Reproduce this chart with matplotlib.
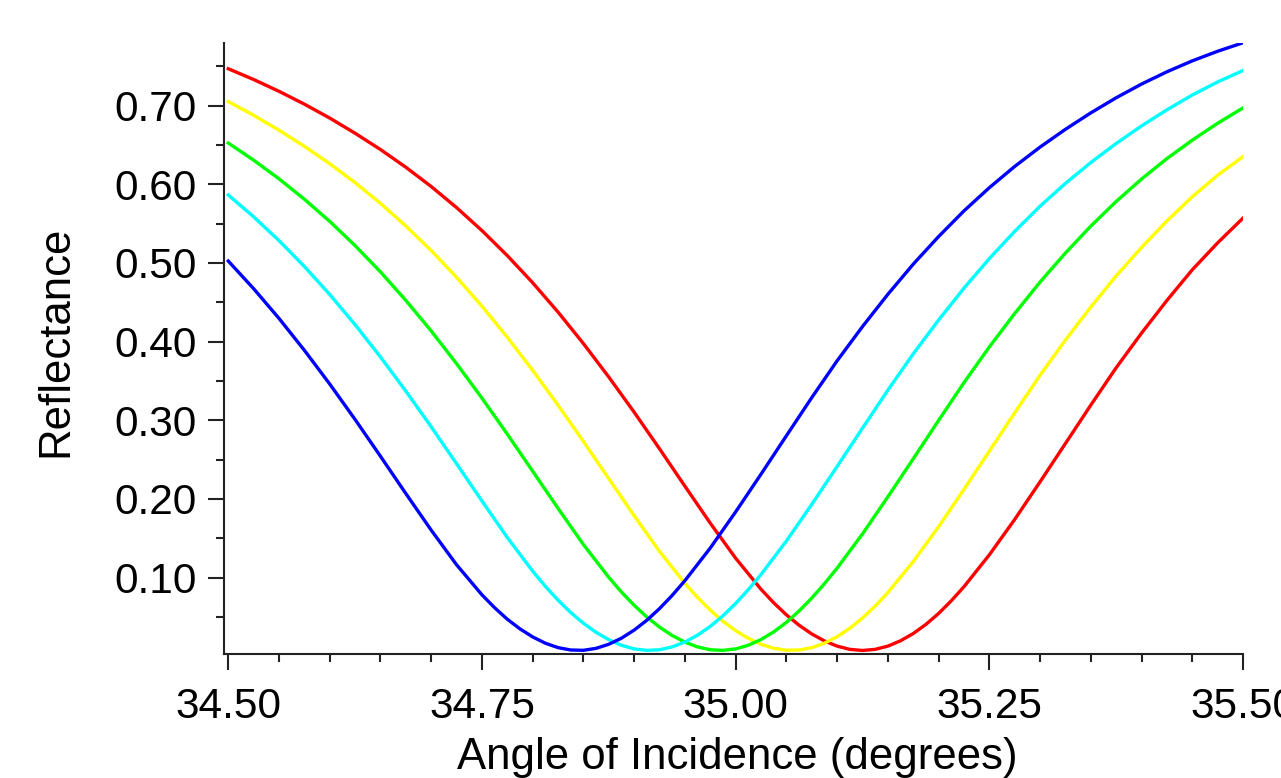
import matplotlib
matplotlib.use("Agg")
import matplotlib.pyplot as plt
from matplotlib.ticker import MultipleLocator, FormatStrFormatter

plt.rcParams['font.family'] = ['Liberation Sans', 'DejaVu Sans']

angles = [34.500, 34.525, 34.550, 34.575, 34.600, 34.625, 34.650, 34.675, 34.700, 34.725,
          34.750, 34.775, 34.800, 34.825, 34.850, 34.875, 34.900, 34.925, 34.950, 34.975,
          35.000, 35.025, 35.050, 35.075, 35.100, 35.125, 35.150, 35.175, 35.200, 35.225,
          35.250, 35.275, 35.300, 35.325, 35.350, 35.375, 35.400, 35.425, 35.450, 35.475,
          35.500]

red = [0.7468, 0.7331, 0.7181, 0.7018, 0.6841, 0.6648, 0.6441, 0.6216, 0.5971, 0.5703,
       0.5411, 0.5093, 0.4748, 0.4375, 0.3975, 0.3550, 0.3103, 0.2638, 0.2163, 0.1693,
       0.1248, 0.0853, 0.0528, 0.0285, 0.0130, 0.0075, 0.0130, 0.0290, 0.0545, 0.0885,
       0.1290, 0.1740, 0.2218, 0.2705, 0.3193, 0.3668, 0.4108, 0.4523, 0.4913, 0.5255,
       0.5570]
red_min_angles = [35.0375, 35.0625, 35.0875, 35.1125, 35.1375, 35.1625, 35.1875, 35.2125]
red_min_vals = [0.0681, 0.0396, 0.0196, 0.0089, 0.0089, 0.0198, 0.0406, 0.0706]

yellow = [0.7051, 0.6876, 0.6687, 0.6482, 0.6261, 0.6020, 0.5757, 0.5469, 0.5157, 0.4817,
          0.4450, 0.4055, 0.3635, 0.3192, 0.2731, 0.2258, 0.1787, 0.1334, 0.0927, 0.0587,
          0.0327, 0.0153, 0.0078, 0.0110, 0.0250, 0.0487, 0.0811, 0.1205, 0.1647, 0.2122,
          0.2608, 0.3095, 0.3573, 0.4020, 0.4440, 0.4835, 0.5197, 0.5534, 0.5841, 0.6115,
          0.6350]
yellow_min_angles = [34.9625, 34.9875, 35.0125, 35.0375, 35.0625, 35.0875, 35.1125, 35.1375]
yellow_min_vals = [0.0748, 0.0446, 0.0229, 0.0103, 0.0081, 0.0167, 0.0357, 0.0639]

green = [0.6524, 0.6306, 0.6069, 0.5810, 0.5528, 0.5220, 0.4886, 0.4524, 0.4135, 0.3720,
         0.3282, 0.2824, 0.2353, 0.1881, 0.1421, 0.1004, 0.0649, 0.0372, 0.0181, 0.0084,
         0.0095, 0.0214, 0.0432, 0.0740, 0.1121, 0.1556, 0.2027, 0.2510, 0.2998, 0.3478,
         0.3932, 0.4357, 0.4757, 0.5126, 0.5468, 0.5781, 0.6066, 0.6326, 0.6560, 0.6775,
         0.6970]
green_min_angles = [34.8875, 34.9125, 34.9375, 34.9625, 34.9875, 35.0125, 35.0375, 35.0625, 35.0875]
green_min_vals = [0.0817, 0.0500, 0.0265, 0.0120, 0.0076, 0.0141, 0.0311, 0.0576, 0.0923]

cyan = [0.5864, 0.5586, 0.5284, 0.4955, 0.4599, 0.4215, 0.3805, 0.3371, 0.2917, 0.2448,
        0.1975, 0.1510, 0.1083, 0.0714, 0.0421, 0.0212, 0.0095, 0.0084, 0.0182, 0.0381,
        0.0672, 0.1040, 0.1466, 0.1931, 0.2413, 0.2900, 0.3383, 0.3844, 0.4274, 0.4679,
        0.5055, 0.5401, 0.5721, 0.6011, 0.6276, 0.6518, 0.6741, 0.6946, 0.7134, 0.7300,
        0.7445]
cyan_min_angles = [34.8125, 34.8375, 34.8625, 34.8875, 34.9125, 34.9375, 34.9625, 34.9875, 35.0125]
cyan_min_vals = [0.0890, 0.0557, 0.0305, 0.0141, 0.0076, 0.0120, 0.0270, 0.0515, 0.0848]

blue = [0.5024, 0.4673, 0.4295, 0.3890, 0.3461, 0.3010, 0.2543, 0.2069, 0.1604, 0.1164,
        0.0782, 0.0472, 0.0247, 0.0111, 0.0077, 0.0154, 0.0334, 0.0607, 0.0962, 0.1377,
        0.1836, 0.2315, 0.2803, 0.3288, 0.3756, 0.4191, 0.4601, 0.4984, 0.5335, 0.5661,
        0.5956, 0.6226, 0.6472, 0.6698, 0.6907, 0.7099, 0.7273, 0.7429, 0.7568, 0.7690,
        0.7798]
blue_min_angles = [34.7625, 34.7875, 34.8125, 34.8375, 34.8625, 34.8875, 34.9125, 34.9375]
blue_min_vals = [0.0618, 0.0349, 0.0167, 0.0081, 0.0102, 0.0231, 0.0459, 0.0775]

series = [(red, red_min_angles, red_min_vals, '#ff0000'),
          (yellow, yellow_min_angles, yellow_min_vals, '#ffff00'),
          (green, green_min_angles, green_min_vals, '#00ff00'),
          (cyan, cyan_min_angles, cyan_min_vals, '#00ffff'),
          (blue, blue_min_angles, blue_min_vals, '#0000ff')]

fig = plt.figure(figsize=(12.81, 7.78), dpi=100)
ax = fig.add_axes([0.17486, 0.15938, 0.79548, 0.78535])

for vals, fx, fy, col in series:
    pts = sorted(zip(angles + fx, vals + fy))
    ax.plot([p[0] for p in pts], [p[1] for p in pts], color=col, lw=2.4,
            solid_joinstyle='round')

ax.set_xlim(34.4958, 35.5)
ax.set_ylim(0.003, 0.7795)

for s in ('top', 'right'):
    ax.spines[s].set_visible(False)
for s in ('left', 'bottom'):
    ax.spines[s].set_linewidth(1.5)
    ax.spines[s].set_color('#222222')

ax.xaxis.set_major_locator(MultipleLocator(0.25))
ax.xaxis.set_minor_locator(MultipleLocator(0.05))
ax.yaxis.set_major_locator(MultipleLocator(0.10))
ax.yaxis.set_minor_locator(MultipleLocator(0.05))
ax.xaxis.set_major_formatter(FormatStrFormatter('%.2f'))
ax.yaxis.set_major_formatter(FormatStrFormatter('%.2f'))
ax.set_yticks([0.10, 0.20, 0.30, 0.40, 0.50, 0.60, 0.70])

ax.tick_params(which='major', direction='out', length=11.5, width=1.5,
               color='#222222', labelsize=30.5)
ax.tick_params(which='minor', direction='out', length=5.8, width=1.5,
               color='#222222')
ax.tick_params(axis='x', which='major', pad=12)
ax.tick_params(axis='y', which='major', pad=8)

ax.set_xlabel('Angle of Incidence (degrees)', fontsize=31.5)
ax.set_ylabel('Reflectance', fontsize=31.5)
ax.xaxis.set_label_coords(0.5034, -0.1358)
ax.yaxis.set_label_coords(-0.1452, 0.511)

fig.savefig('out.png', dpi=100)
